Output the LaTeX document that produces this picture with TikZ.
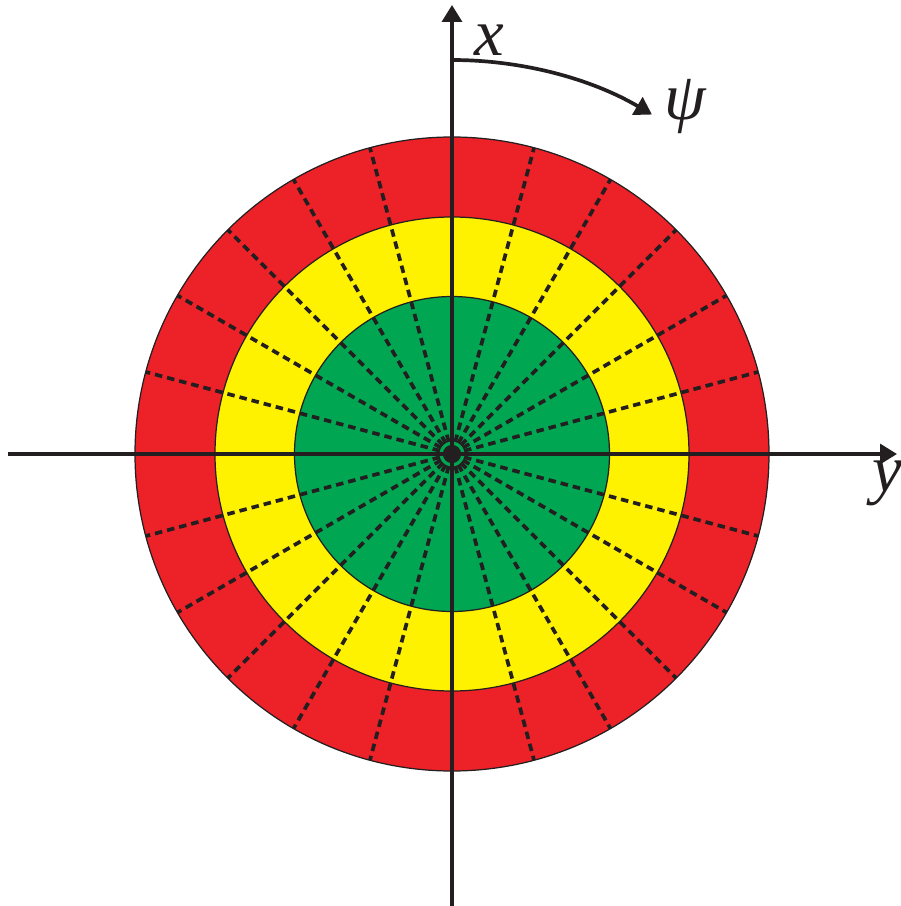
\documentclass[tikz,border=0pt]{standalone}
\usepackage{fontspec}
\setmainfont{Liberation Serif}
\usetikzlibrary{arrows.meta}
\definecolor{cred}{HTML}{ED2128}
\definecolor{cyellow}{HTML}{FFF200}
\definecolor{cgreen}{HTML}{00A651}
\definecolor{cink}{HTML}{231F20}
\tikzset{
  zone/.style={draw=cink, line width=0.35pt, fill=#1},
  spoke/.style={draw=cink, line width=1.05pt, dash pattern=on 0.75mm off 0.5mm},
  axis/.style={draw=cink, line width=0.95pt, -{Triangle[length=1.7mm, width=2mm]}},
  lbl/.style={font=\fontsize{19}{21}\selectfont\itshape, text=cink, inner sep=0pt},
}
\begin{document}
\begin{tikzpicture}
  \useasboundingbox (-4.52,-4.52) rectangle (4.48,4.54);
  \coordinate (O) at (0,0);
  % the three zones
  \path[zone=cred] (O) circle (3.17);
  \path[zone=cyellow] (O) circle (2.37);
  \path[zone=cgreen] (O) circle (1.575);
  % radial spokes, every 15 degrees
  \foreach \a in {0,15,...,345} \draw[spoke] (O) -- (\a:3.17);
  % centre mark
  \draw[cink, line width=1.2pt] (O) circle (0.07);
  \fill[cink] (O) circle (0.03);
  % axes
  \coordinate (yl) at (-4.44,0);
  \coordinate (yr) at (4.45,0);
  \coordinate (xb) at (0,-4.52);
  \coordinate (xt) at (0,4.49);
  \draw[axis] (yl) -- (yr);
  \draw[axis] (xb) -- (xt);
  % angle psi
  \coordinate (arcS) at (90:3.94);
  \draw[axis, line width=1.05pt] (arcS) arc[start angle=90, end angle=59.5, radius=3.94];
  \node[lbl] (xlab) at (0.37,4.14) {x};
  \node[lbl] (psilab) at (2.33,3.47) {ψ};
  \node[lbl] (ylab) at (4.35,-0.29) {y};
\end{tikzpicture}
\end{document}
